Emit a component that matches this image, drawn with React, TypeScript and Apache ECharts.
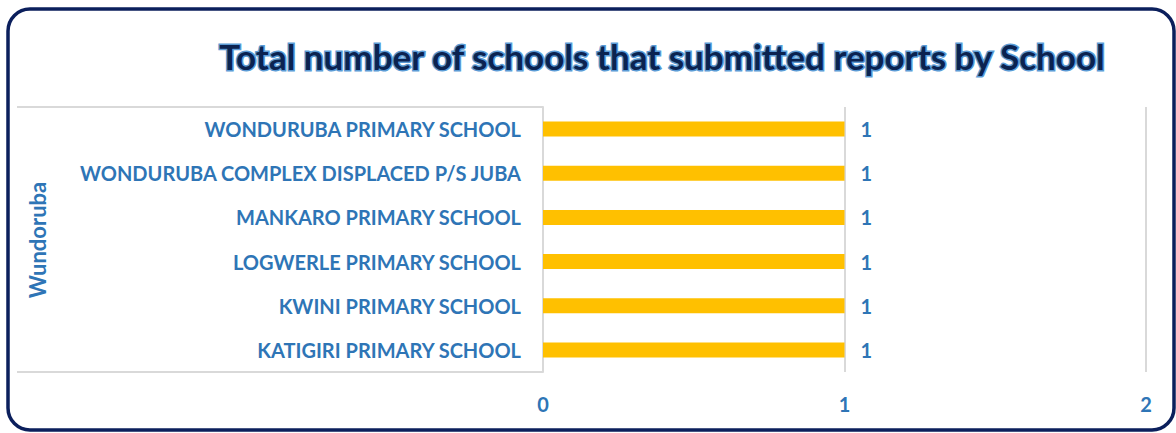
import React, { useEffect, useRef } from "react";
import * as echarts from "echarts";

const TITLE = "Total number of schools that submitted reports by School";
const GROUP_LABEL = "Wundoruba";
const SCHOOLS = [
  "WONDURUBA PRIMARY SCHOOL",
  "WONDURUBA COMPLEX DISPLACED P/S JUBA",
  "MANKARO PRIMARY SCHOOL",
  "LOGWERLE PRIMARY SCHOOL",
  "KWINI PRIMARY SCHOOL",
  "KATIGIRI PRIMARY SCHOOL",
];
const REPORTS = [1, 1, 1, 1, 1, 1];
const X_MIN = 0;
const X_MAX = 2;
const X_STEP = 1;

const BLUE = "#2E75B6";
const FONT = "Lato, 'Open Sans', sans-serif";

export default function App() {
  const ref = useRef<HTMLDivElement>(null);
  useEffect(() => {
    if (!ref.current) return;
    const chart = echarts.init(ref.current, null, { renderer: "svg" });
    chart.setOption({
      animation: false,
      backgroundColor: "#ffffff",
      title: {
        text: TITLE,
        left: 657,
        textAlign: "center",
        top: 33,
        textStyle: {
          fontFamily: FONT,
          fontWeight: "bold",
          fontSize: 35,
          color: "#0b2350",
          textBorderColor: "#5b9bd5",
          textBorderWidth: 3,
        },
      },
      grid: { left: 543, right: 30, top: 107, bottom: 61, containLabel: false },
      xAxis: {
        type: "value",
        min: X_MIN,
        max: X_MAX,
        interval: X_STEP,
        axisLine: { show: false },
        axisTick: { show: false },
        splitLine: { show: true, lineStyle: { color: "#d9d9d9", width: 2 } },
        axisLabel: {
          color: BLUE,
          fontFamily: FONT,
          fontWeight: "bold",
          fontSize: 20,
          margin: 22,
        },
      },
      yAxis: {
        type: "category",
        inverse: true,
        data: SCHOOLS,
        axisLine: { show: true, lineStyle: { color: "#d9d9d9", width: 2 } },
        axisTick: { show: false },
        axisLabel: {
          color: BLUE,
          fontFamily: FONT,
          fontWeight: "bold",
          fontSize: 20,
          margin: 22,
        },
      },
      series: [
        {
          type: "bar",
          data: REPORTS,
          barWidth: 15,
          itemStyle: { color: "#FFC000" },
          label: {
            show: true,
            position: "right",
            distance: 16,
            color: BLUE,
            fontFamily: FONT,
            fontWeight: "bold",
            fontSize: 20,
          },
        },
      ],
      graphic: [
        {
          type: "rect",
          shape: { x: 8, y: 9, width: 1166, height: 421, r: 22 },
          style: { fill: "none", stroke: "#0b1f5c", lineWidth: 3.5 },
          silent: true,
        },
        {
          type: "line",
          shape: { x1: 17, y1: 107, x2: 543, y2: 107 },
          style: { stroke: "#d9d9d9", lineWidth: 2 },
          silent: true,
        },
        {
          type: "line",
          shape: { x1: 17, y1: 372, x2: 543, y2: 372 },
          style: { stroke: "#d9d9d9", lineWidth: 2 },
          silent: true,
        },
        {
          type: "text",
          x: 37,
          y: 240,
          rotation: Math.PI / 2,
          style: {
            text: GROUP_LABEL,
            fill: BLUE,
            font: `bold 22px ${FONT}`,
            align: "center",
            verticalAlign: "middle",
          },
          silent: true,
        },
      ],
    });
    return () => chart.dispose();
  }, []);
  return <div ref={ref} style={{ width: 1176, height: 433, position: "fixed", left: 0, top: 0 }} />;
}
